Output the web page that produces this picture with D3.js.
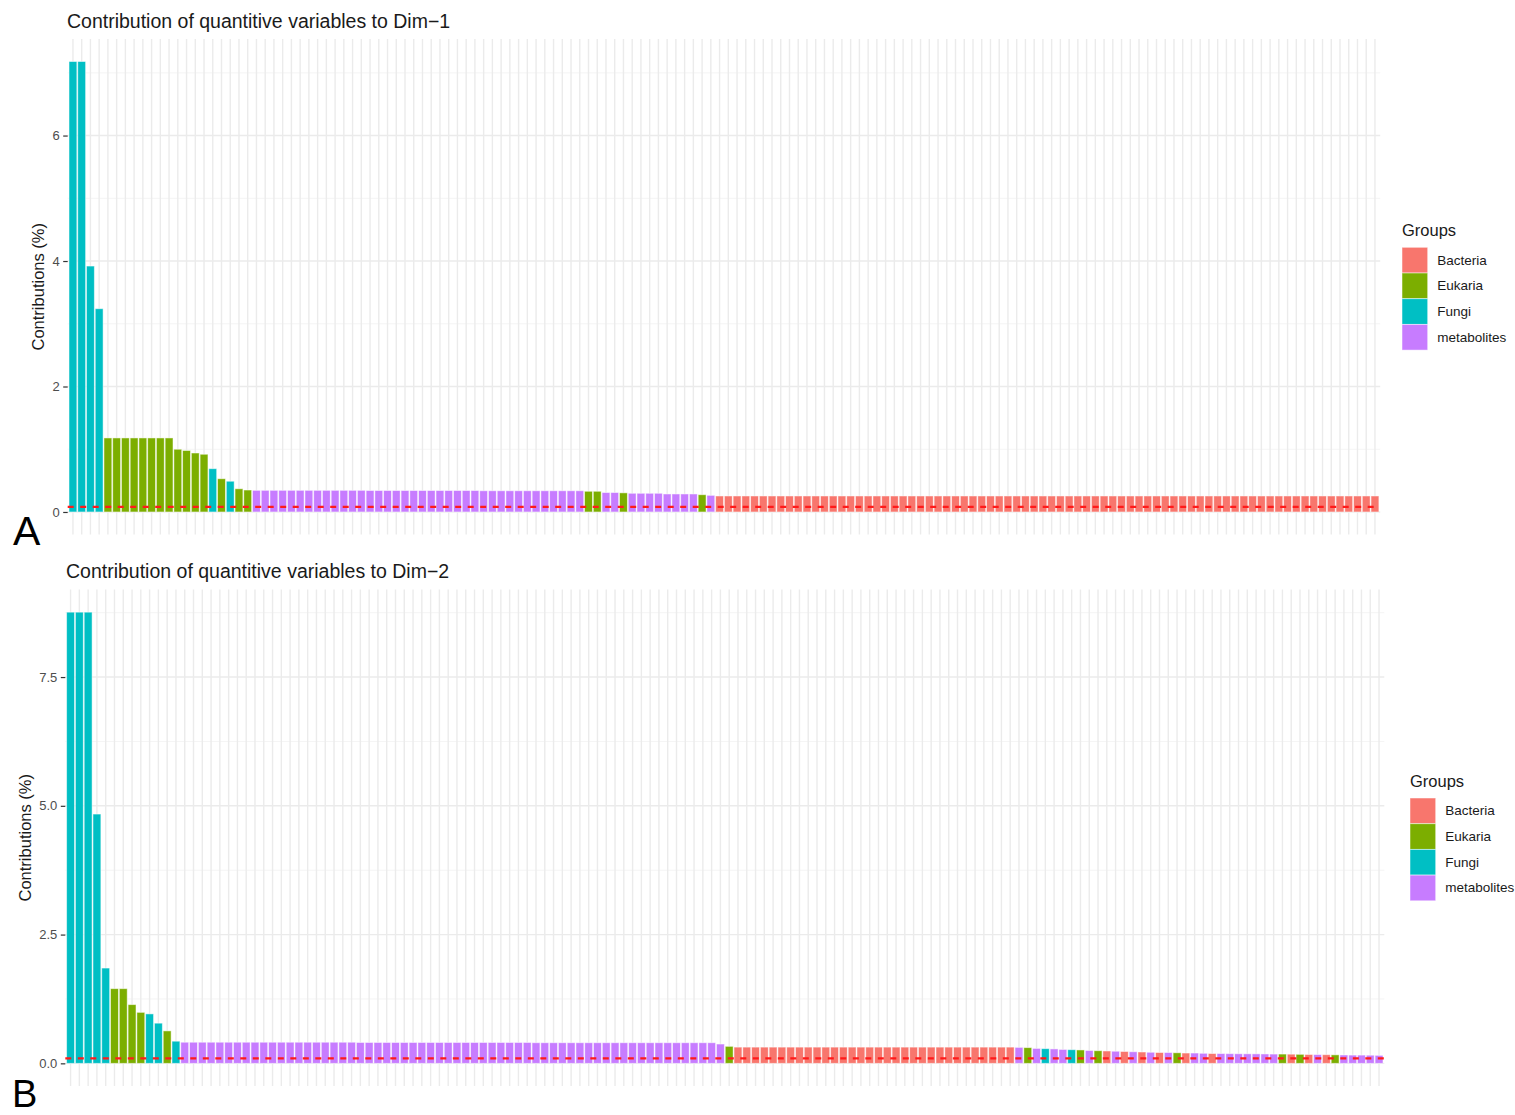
<!DOCTYPE html>
<html>
<head>
<meta charset="utf-8">
<script src="https://cdn.jsdelivr.net/npm/d3@7"></script>
<style>
  html, body { margin: 0; padding: 0; background: #ffffff; }
  svg { display: block; }
</style>
</head>
<body>
<script>
// Legend categories and their ggplot-style hues
const groupNames = ["Bacteria", "Eukaria", "Fungi", "metabolites"];
const groupCodes = { B: "Bacteria", E: "Eukaria", F: "Fungi", M: "metabolites" };
const groupColors = ["#F8766D", "#7CAE00", "#00BFC4", "#C77CFF"];

// Dim-1: group of each of the 150 top variables, sorted by contribution
const groupsDim1 = [
  "F","F","F","F",
  "E","E","E","E","E","E","E","E","E","E","E","E",
  "F","E","F","E","E",
  "M","M","M","M","M","M","M","M","M","M","M","M","M",
  "M","M","M","M","M","M","M","M","M","M","M","M","M",
  "M","M","M","M","M","M","M","M","M","M","M","M",
  "E","E","M","M","E",
  "M","M","M","M","M","M","M","M",
  "E","M",
  "B","B","B","B","B","B","B","B","B","B",
  "B","B","B","B","B","B","B","B","B","B",
  "B","B","B","B","B","B","B","B","B","B",
  "B","B","B","B","B","B","B","B","B","B",
  "B","B","B","B","B","B","B","B","B","B",
  "B","B","B","B","B","B","B","B","B","B",
  "B","B","B","B","B","B","B","B","B","B",
  "B","B","B","B","B","B"
];

// Dim-1 contributions (%)
const contribDim1 = [
  7.18, 7.18, 3.92, 3.24,
  1.18, 1.18, 1.18, 1.18, 1.18, 1.18, 1.18, 1.18,
  1.00, 0.98, 0.94, 0.92,
  0.69, 0.53, 0.49, 0.37, 0.35,
  0.345, 0.345, 0.345, 0.345, 0.345, 0.345, 0.345, 0.345, 0.345, 0.345, 0.345, 0.345, 0.345,
  0.342, 0.342, 0.342, 0.342, 0.342, 0.342, 0.342, 0.342, 0.342, 0.342, 0.342, 0.342, 0.342,
  0.338, 0.338, 0.338, 0.338, 0.338, 0.338, 0.338, 0.338, 0.338, 0.338, 0.338, 0.338,
  0.33, 0.33, 0.31, 0.31, 0.305,
  0.298, 0.298, 0.298, 0.298, 0.287, 0.287, 0.287, 0.287,
  0.275, 0.265,
  0.255, 0.255, 0.255, 0.255, 0.255, 0.255, 0.255, 0.255, 0.255, 0.255,
  0.255, 0.255, 0.255, 0.255, 0.255, 0.255, 0.255, 0.255, 0.255, 0.255,
  0.255, 0.255, 0.255, 0.255, 0.255, 0.255, 0.255, 0.255, 0.255, 0.255,
  0.255, 0.255, 0.255, 0.255, 0.255, 0.255, 0.255, 0.255, 0.255, 0.255,
  0.255, 0.255, 0.255, 0.255, 0.255, 0.255, 0.255, 0.255, 0.255, 0.255,
  0.255, 0.255, 0.255, 0.255, 0.255, 0.255, 0.255, 0.255, 0.255, 0.255,
  0.255, 0.255, 0.255, 0.255, 0.255, 0.255, 0.255, 0.255, 0.255, 0.255,
  0.255, 0.255, 0.255, 0.255, 0.255, 0.255
];

// Dim-2: group of each of the 150 top variables, sorted by contribution
const groupsDim2 = [
  "F","F","F","F","F",
  "E","E","E","E",
  "F","F","E","F",
  "M","M","M","M","M","M","M","M","M","M",
  "M","M","M","M","M","M","M","M","M","M",
  "M","M","M","M","M","M","M","M","M","M",
  "M","M","M","M","M","M","M","M","M","M",
  "M","M","M","M","M","M","M","M","M","M",
  "M","M","M","M","M","M","M","M","M","M",
  "M","M",
  "E",
  "B","B","B","B","B","B","B","B","B","B",
  "B","B","B","B","B","B","B","B","B","B",
  "B","B","B","B","B","B","B","B","B","B",
  "B","B",
  "M","E","M","F","M","M","F","E","M","E",
  "B","M","B","M","B","M","B","M","E","B",
  "M","M","B",
  "M","M","M","M","M","M","M",
  "E","B","E","B","M","B","E",
  "M","M","M","M","M"
];

// Dim-2 contributions (%)
const contribDim2 = [
  8.76, 8.76, 8.76, 4.84, 1.85,
  1.45, 1.45, 1.14, 0.99,
  0.96, 0.78, 0.63, 0.43,
  0.41, 0.41, 0.41, 0.41, 0.41, 0.41, 0.41, 0.41, 0.41, 0.41,
  0.41, 0.41, 0.41, 0.41, 0.41, 0.41, 0.41, 0.41, 0.41, 0.41,
  0.405, 0.405, 0.405, 0.405, 0.405, 0.405, 0.405, 0.405, 0.405, 0.405,
  0.405, 0.405, 0.405, 0.405, 0.405, 0.405, 0.405, 0.405, 0.405, 0.405,
  0.40, 0.40, 0.40, 0.40, 0.40, 0.40, 0.40, 0.40, 0.40, 0.40,
  0.40, 0.40, 0.40, 0.40, 0.40, 0.40, 0.40, 0.40, 0.40, 0.40,
  0.40, 0.375,
  0.33,
  0.315, 0.315, 0.315, 0.315, 0.315, 0.315, 0.315, 0.315, 0.315, 0.315,
  0.315, 0.315, 0.315, 0.315, 0.315, 0.315, 0.315, 0.315, 0.315, 0.315,
  0.315, 0.315, 0.315, 0.315, 0.315, 0.315, 0.315, 0.315, 0.315, 0.315,
  0.315, 0.315,
  0.31, 0.305, 0.29, 0.285, 0.28, 0.27, 0.265, 0.26, 0.25, 0.245,
  0.24, 0.235, 0.23, 0.225, 0.22, 0.215, 0.21, 0.21, 0.205, 0.20,
  0.20, 0.195, 0.19,
  0.19, 0.188, 0.186, 0.185, 0.184, 0.182, 0.18,
  0.18, 0.178, 0.175, 0.172, 0.17, 0.168, 0.165,
  0.162, 0.16, 0.16, 0.158, 0.155
];

// Expected average contribution (red dashed reference line)
const expectedDim1 = 0.08;
const expectedDim2 = 0.095;

// Axis tick values
const ticksDim1 = [0, 2, 4, 6];
const ticksDim2 = [0, 2.5, 5, 7.5];

const titles = [
  "Contribution of quantitive variables to Dim\u22121",
  "Contribution of quantitive variables to Dim\u22122"
];
const panelLetters = ["A", "B"];

const W = 1515, H = 1115;
const FONT = "'Liberation Sans', Arial, Helvetica, sans-serif";

const svg = d3.select("body").append("svg")
  .attr("width", W).attr("height", H)
  .attr("viewBox", `0 0 ${W} ${H}`);

svg.append("rect").attr("width", W).attr("height", H).attr("fill", "#ffffff");

const color = d3.scaleOrdinal().domain(groupNames).range(groupColors);

function drawPanel(cfg) {
  const { groups, values, expected, ticks, tickFmt, title, letter, L } = cfg;
  if (groups.length !== values.length) throw new Error("length mismatch " + groups.length + " " + values.length);
  const n = values.length;
  const g = svg.append("g");

  const x = d3.scaleBand()
    .domain(d3.range(n))
    .range([L.left, L.right])
    .paddingInner(0.1)
    .paddingOuter(0.15);

  const maxV = d3.max(values);
  const y = d3.scaleLinear()
    .domain([-0.05 * maxV, 1.05 * maxV])
    .range([L.bottom, L.top]);

  // minor horizontal grid (half way between major ticks)
  const step = ticks[1] - ticks[0];
  const minor = [];
  for (let v = ticks[0] + step / 2; v < y.domain()[1]; v += step) minor.push(v);
  g.append("g").selectAll("line").data(minor).join("line")
    .attr("x1", L.left).attr("x2", L.right)
    .attr("y1", d => y(d)).attr("y2", d => y(d))
    .attr("stroke", "#f1f1f1").attr("stroke-width", 0.8);

  // major horizontal grid
  g.append("g").selectAll("line").data(ticks).join("line")
    .attr("x1", L.left).attr("x2", L.right)
    .attr("y1", d => y(d)).attr("y2", d => y(d))
    .attr("stroke", "#ebebeb").attr("stroke-width", 1.4);

  // vertical grid at every variable
  g.append("g").selectAll("line").data(d3.range(n)).join("line")
    .attr("x1", d => x(d) + x.bandwidth() / 2).attr("x2", d => x(d) + x.bandwidth() / 2)
    .attr("y1", L.top).attr("y2", L.bottom)
    .attr("stroke", "#ebebeb").attr("stroke-width", 1.4);

  // bars
  g.append("g").selectAll("rect").data(values).join("rect")
    .attr("x", (d, i) => x(i))
    .attr("width", x.bandwidth())
    .attr("y", d => y(d))
    .attr("height", d => y(0) - y(d))
    .attr("fill", (d, i) => color(groupCodes[groups[i]]))
    .attr("stroke", "rgba(255,255,255,0.55)")
    .attr("stroke-width", 0.9);

  // expected-value reference line
  g.append("line")
    .attr("x1", L.left).attr("x2", L.right)
    .attr("y1", y(expected)).attr("y2", y(expected))
    .attr("stroke", "#ff1a1a").attr("stroke-width", 2.2)
    .attr("stroke-dasharray", "6,6.5");

  // y axis
  const axis = g.append("g")
    .attr("transform", `translate(${L.left},0)`)
    .call(d3.axisLeft(y).tickValues(ticks).tickFormat(tickFmt).tickSize(4.5).tickPadding(3.5));
  axis.select(".domain").remove();
  axis.selectAll(".tick line").attr("stroke", "#333333").attr("stroke-width", 1.2);
  axis.selectAll(".tick text")
    .attr("fill", "#4d4d4d")
    .style("font-family", FONT)
    .style("font-size", "13px");

  // y axis title
  g.append("text")
    .attr("transform", `translate(${L.yTitleX},${(L.top + L.bottom) / 2}) rotate(-90)`)
    .attr("text-anchor", "middle")
    .attr("dominant-baseline", "central")
    .attr("fill", "#1a1a1a")
    .style("font-family", FONT)
    .style("font-size", "16.5px")
    .text("Contributions (%)");

  // title
  g.append("text")
    .attr("x", L.titleX).attr("y", L.titleY)
    .attr("fill", "#1a1a1a")
    .style("font-family", FONT)
    .style("font-size", "19.5px")
    .text(title);

  // legend
  const lg = g.append("g").attr("transform", `translate(${L.legendX},${L.legendY})`);
  lg.append("text")
    .attr("x", 0).attr("y", -11)
    .attr("fill", "#1a1a1a")
    .style("font-family", FONT)
    .style("font-size", "16.5px")
    .text("Groups");
  const key = 25.7;
  const items = lg.selectAll("g.item").data(groupNames).join("g")
    .attr("class", "item")
    .attr("transform", (d, i) => `translate(0,${i * key})`);
  items.append("rect")
    .attr("width", key).attr("height", key)
    .attr("fill", d => color(d))
    .attr("stroke", "rgba(255,255,255,0.55)").attr("stroke-width", 0.9);
  items.append("text")
    .attr("x", key + 9.5).attr("y", key / 2)
    .attr("dominant-baseline", "central")
    .attr("fill", "#1a1a1a")
    .style("font-family", FONT)
    .style("font-size", "13.5px")
    .text(d => d);

  // panel letter
  g.append("text")
    .attr("x", L.letterX).attr("y", L.letterY)
    .attr("fill", "#000000")
    .style("font-family", FONT)
    .style("font-size", L.letterSize + "px")
    .text(letter);
}

drawPanel({
  groups: groupsDim1, values: contribDim1, expected: expectedDim1,
  ticks: ticksDim1, tickFmt: d3.format("d"),
  title: titles[0], letter: panelLetters[0],
  L: { left: 67.7, right: 1380.2, top: 39, bottom: 534.5,
       yTitleX: 38, titleX: 67, titleY: 27.5,
       legendX: 1402, legendY: 247.3, letterX: 13, letterY: 545, letterSize: 41 }
});

drawPanel({
  groups: groupsDim2, values: contribDim2, expected: expectedDim2,
  ticks: ticksDim2, tickFmt: d3.format(".1f"),
  title: titles[1], letter: panelLetters[1],
  L: { left: 65.3, right: 1384.3, top: 589.6, bottom: 1085.9,
       yTitleX: 25, titleX: 66, titleY: 578,
       legendX: 1410, legendY: 798, letterX: 12, letterY: 1107, letterSize: 38 }
});
</script>
</body>
</html>
